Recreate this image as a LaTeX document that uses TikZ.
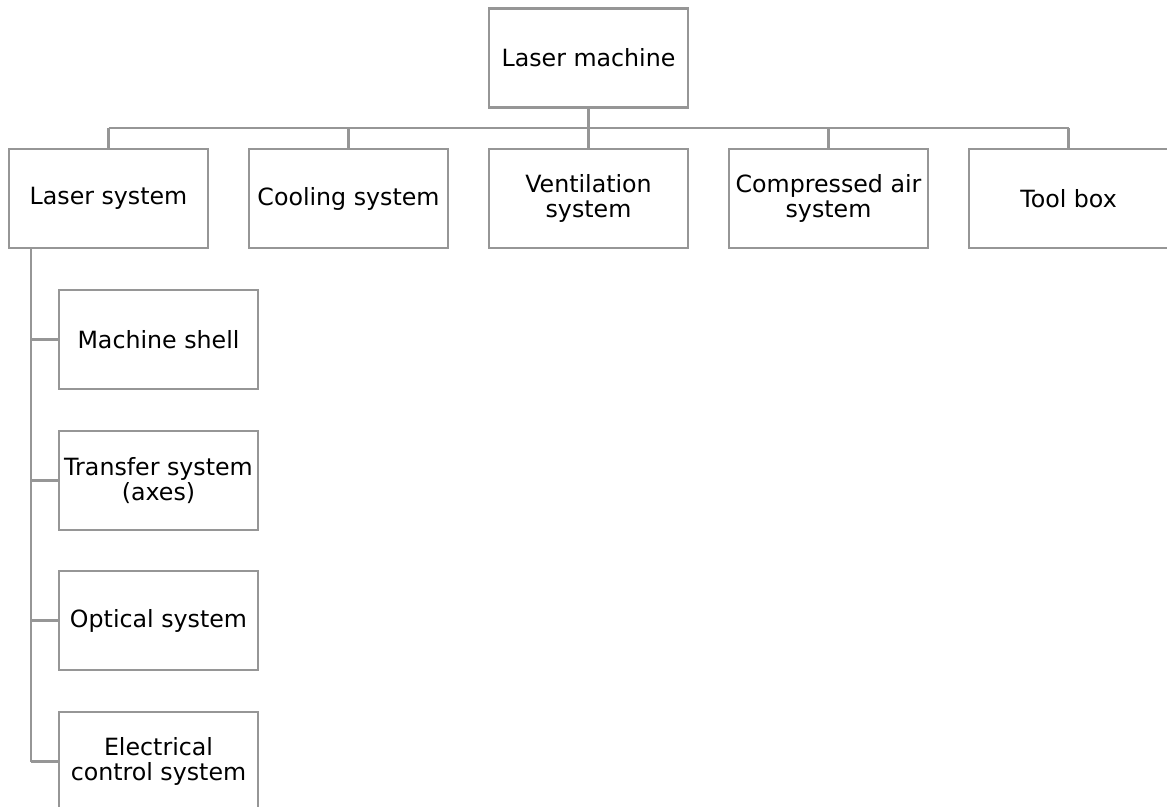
\documentclass[tikz,border=0pt]{standalone}
\usepackage{fontspec}
\setmainfont{DejaVu Sans}
\definecolor{boxline}{RGB}{150,150,150}
\begin{document}
\begin{tikzpicture}[x=1bp,y=-1bp,
  unit/.style={draw=boxline, line width=2.2bp, fill=white, minimum width=199bp,
    minimum height=99bp, inner sep=0pt, align=center, text=black,
    font=\fontsize{23.8}{25.8}\selectfont},
  link/.style={draw=boxline, line width=2.2bp}]
\useasboundingbox (0,0) rectangle (1167,807);
% root
\node[unit] (root) at (588.5,58) {Laser machine};
% first level
\node[unit] (laser) at (108.5,198.5) {Laser system};
\node[unit] (cool)  at (348.5,198.5) {Cooling system};
\node[unit] (vent)  at (588.5,198.5) {Ventilation\\system};
\node[unit] (air)   at (828.5,198.5) {Compressed air\\system};
\node[unit] (tool)  at (1068.5,198.5) {Tool box};
% sub-units of the laser system
\node[unit] (shell) at (158.5,339.5) {Machine shell};
\node[unit] (axes)  at (158.5,480.5) {Transfer system\\(axes)};
\node[unit] (optic) at (158.5,620.5) {Optical system};
\node[unit] (elec)  at (158.5,761.5) {Electrical\\control system};
% bus from the root
\coordinate (bus) at (588.5,128);
\draw[link] (root.south) -- (bus);
\foreach \n in {laser,cool,vent,air,tool}
  \draw[link] (\n.north) -- (\n.north |- bus);
\draw[link] (laser.north |- bus) -- (tool.north |- bus);
% trunk down the left side
\coordinate (trunk) at (31,0);
\draw[link] (laser.south -| trunk) -- (elec.west -| trunk);
\foreach \n in {shell,axes,optic,elec}
  \draw[link] (\n.west -| trunk) -- (\n.west);
\end{tikzpicture}
\end{document}
